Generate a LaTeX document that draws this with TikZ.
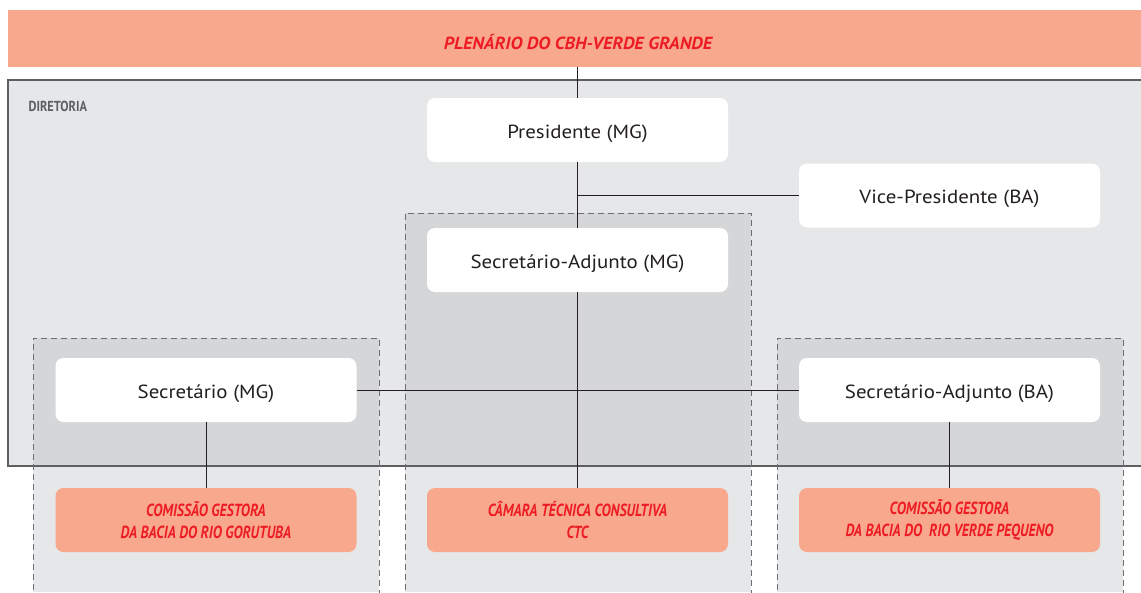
\documentclass[tikz,border=0pt]{standalone}
\usepackage{fontspec}
\setmainfont{PT Sans}
\newfontfamily\condfont[FakeStretch=0.80]{PT Sans}
\newfontfamily\dirfont[FakeStretch=0.85]{PT Sans}
\newfontfamily\titlefont[FakeStretch=1.05]{PT Sans}
\newfontfamily\nodefont[FakeStretch=1.1]{PT Sans}
\definecolor{salmon}{HTML}{F8A98D}
\definecolor{redtxt}{HTML}{ED1C24}
\definecolor{lightgr}{HTML}{E6E7E8}
\definecolor{darkgr}{HTML}{D5D6D8}
\definecolor{bordgr}{HTML}{5E5F62}
\definecolor{dashgr}{HTML}{6D6E71}
\definecolor{linegr}{HTML}{231F20}
\definecolor{txtgr}{HTML}{231F20}
\begin{document}
\begin{tikzpicture}[x=1pt,y=-1pt,
  wbox/.style={fill=white,rounded corners=8pt,minimum width=301pt,minimum height=64pt,inner sep=0pt,text=txtgr,text height=17pt,text depth=0.5pt,font=\nodefont\fontsize{19}{22}\selectfont},
  obox/.style={fill=salmon,rounded corners=8pt,minimum width=301pt,minimum height=64pt,inner sep=0pt,text=redtxt,align=center,font=\condfont\bfseries\itshape\fontsize{17.5}{22.5}\selectfont},
  conn/.style={draw=linegr,line width=0.9pt},
  dbox/.style={draw=dashgr,line width=0.9pt,dash pattern=on 6pt off 4pt}]
\useasboundingbox (0,0) rectangle (1141,592);
\fill[white] (0,0) rectangle (1141,592);
% top band
\fill[salmon] (8,10) rectangle (1141,67);
\node[text=redtxt,font=\titlefont\bfseries\itshape\fontsize{17.5}{20}\selectfont] (plen) at (578,42) {PLENÁRIO DO CBH-VERDE GRANDE};
\coordinate (plenb) at (577,67);
% diretoria
\fill[lightgr] (8,80) rectangle (1150,466);
% dashed column fills
\fill[lightgr] (33,338) rectangle (379,592);
\fill[lightgr] (405,213) rectangle (751,592);
\fill[lightgr] (777,338) rectangle (1123,592);
\fill[darkgr] (33,338) rectangle (379,466);
\fill[darkgr] (405,213) rectangle (751,466);
\fill[darkgr] (777,338) rectangle (1123,466);
\draw[draw=bordgr,line width=2pt] (8,80) rectangle (1150,466);
\node[anchor=west,text=bordgr,font=\dirfont\bfseries\fontsize{14.5}{16}\selectfont] (dir) at (25,106) {DIRETORIA};
\draw[dbox] (33,600) -- (33,338) -- (379,338) -- (379,600);
\draw[dbox] (405,600) -- (405,213) -- (751,213) -- (751,600);
\draw[dbox] (777,600) -- (777,338) -- (1123,338) -- (1123,600);
% nodes
\node[wbox] (pres) at (577.5,130) {Presidente (MG)};
\node[wbox] (vice) at (949.5,195.5) {Vice-Presidente (BA)};
\node[wbox] (sam) at (577.5,260) {Secretário-Adjunto (MG)};
\node[wbox] (sec) at (206,390) {Secretário (MG)};
\node[wbox] (saba) at (949.5,390) {Secretário-Adjunto (BA)};
\node[obox] (cgg) at (206,520) {COMISSÃO GESTORA\\DA BACIA DO RIO GORUTUBA};
\node[obox] (ctc) at (577.5,520) {CÂMARA TÉCNICA CONSULTIVA\\CTC};
\node[obox] (cgv) at (949.5,520) {COMISSÃO GESTORA\\DA BACIA DO\ \ RIO VERDE PEQUENO};
\coordinate (j) at (577,195.5);
% connectors
\draw[conn] (plenb) -- (pres.north -| plenb);
\draw[conn] (pres.south -| plenb) -- (sam.north -| plenb);
\draw[conn] (j) -- (vice.west);
\draw[conn] (sam.south -| plenb) -- (ctc.north -| plenb);
\draw[conn] (sec.east) -- (saba.west);
\draw[conn] (sec.south) -- (cgg.north);
\draw[conn] (saba.south) -- (cgv.north);
\end{tikzpicture}
\end{document}
